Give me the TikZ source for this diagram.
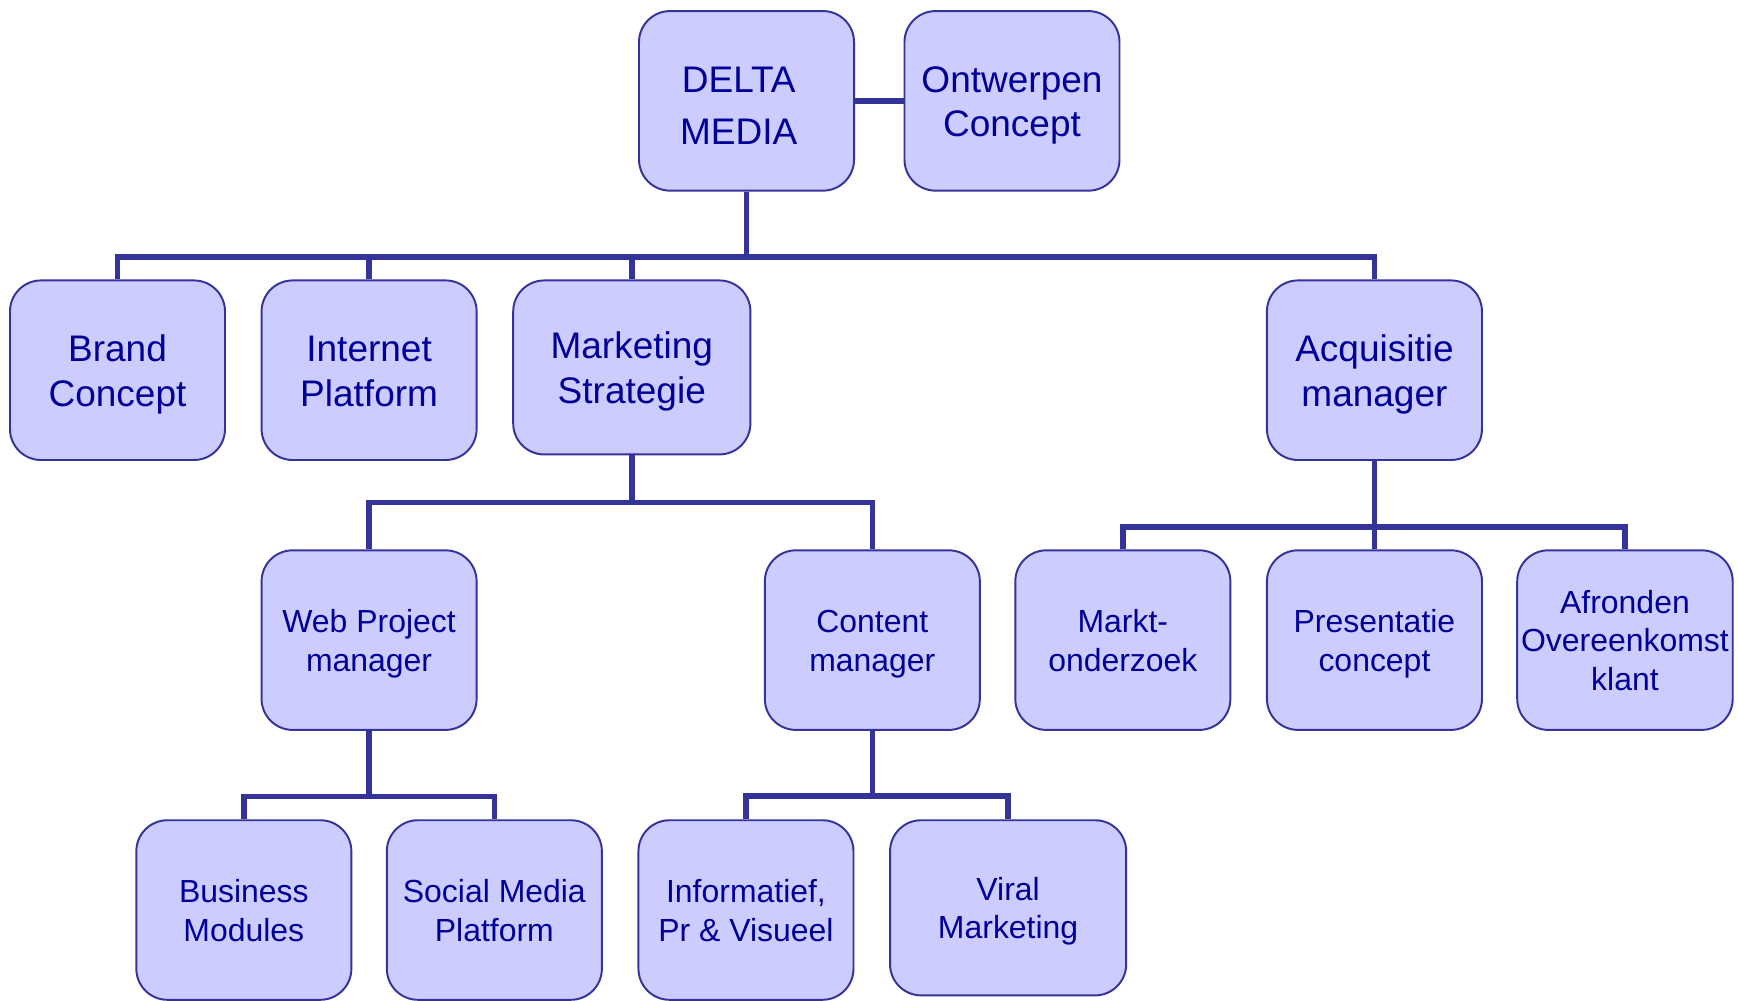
\documentclass[tikz,border=0pt]{standalone}
\usepackage{fontspec}
\setmainfont{Liberation Sans}
\usepackage{tikz}
\usetikzlibrary{positioning}
\definecolor{boxfill}{HTML}{CCCCFF}
\definecolor{boxline}{HTML}{333399}
\definecolor{boxtext}{HTML}{000099}
\newcommand{\lift}{\rule{0pt}{0.95em}}
\newcommand{\sink}{\rule[-0.21em]{0pt}{0.21em}}

\begin{document}
\begin{tikzpicture}[
  box/.style = {draw=boxline, fill=boxfill, text=boxtext, line width=0.5pt,
    rounded corners=0.28cm, align=center, inner sep=1pt,
    minimum width=1.94cm, minimum height=1.62cm,
    font=\fontsize{9.5}{11.5}\selectfont},
  small/.style = {font=\fontsize{8.2}{9.85}\selectfont},
  link/.style = {draw=boxline, line width=1.4pt}
  ]
	\useasboundingbox (0,0) rectangle (15.68,9.03);

	% top
	\node[box,font=\fontsize{9.5}{13.3}\selectfont] (delta) at (6.735,8.12) {\lift DELTA\hspace*{0.14cm}\\MEDIA\hspace*{0.14cm}};
	\node[box,font=\fontsize{9.5}{11.1}\selectfont] (ontwerpen) at (9.13,8.12) {\lift Ontwerpen\\Concept\sink};

	% second row
	\node[box] (brand) at (1.06,5.69) {\lift Brand\\Concept\sink};
	\node[box] (internet) at (3.33,5.69) {\lift Internet\\Platform\sink};
	\node[box,minimum width=2.14cm,minimum height=1.57cm] (marketing) at (5.70,5.715) {\lift Marketing\\Strategie\sink};
	\node[box] (acquisitie) at (12.40,5.69) {\lift Acquisitie\\manager\sink};

	% third row
	\node[box,small] (webpm) at (3.33,3.255) {\lift Web Project\\manager\sink};
	\node[box,small] (content) at (7.87,3.255) {\lift Content\\manager\sink};
	\node[box,small] (markt) at (10.13,3.255) {\lift Markt-\\onderzoek\sink};
	\node[box,small] (presentatie) at (12.40,3.255) {\lift Presentatie\\concept\sink};
	\node[box,small] (afronden) at (14.66,3.255) {\lift Afronden\\Overeenkomst\\klant\sink};

	% fourth row
	\node[box,small] (business) at (2.20,0.82) {\lift Business\\Modules\sink};
	\node[box,small] (social) at (4.46,0.82) {\lift Social Media\\Platform\sink};
	\node[box,small] (informatief) at (6.73,0.82) {\lift Informatief,\\Pr \& Visueel\sink};
	\node[box,small,minimum width=2.13cm,minimum height=1.58cm] (viral) at (9.095,0.84) {\lift Viral\\Marketing\sink};

	% bus heights
	\coordinate (bus@delta) at (0,6.71);
	\coordinate (bus@marketing) at (0,4.495);
	\coordinate (bus@acquisitie) at (0,4.275);
	\coordinate (bus@webpm) at (0,1.845);
	\coordinate (bus@content) at (0,1.85);

	\draw[link] (delta.east) -- (ontwerpen.west);

	\foreach \kid in {brand,internet,marketing,acquisitie}
		\draw[link] (delta.south) -- (delta.south |- bus@delta) -| (\kid.north);
	\foreach \kid in {webpm,content}
		\draw[link] (marketing.south) -- (marketing.south |- bus@marketing) -| (\kid.north);
	\foreach \kid in {markt,presentatie,afronden}
		\draw[link] (acquisitie.south) -- (acquisitie.south |- bus@acquisitie) -| (\kid.north);
	\foreach \kid in {business,social}
		\draw[link] (webpm.south) -- (webpm.south |- bus@webpm) -| (\kid.north);
	\foreach \kid in {informatief,viral}
		\draw[link] (content.south) -- (content.south |- bus@content) -| (\kid.north);

\end{tikzpicture}
\end{document}
